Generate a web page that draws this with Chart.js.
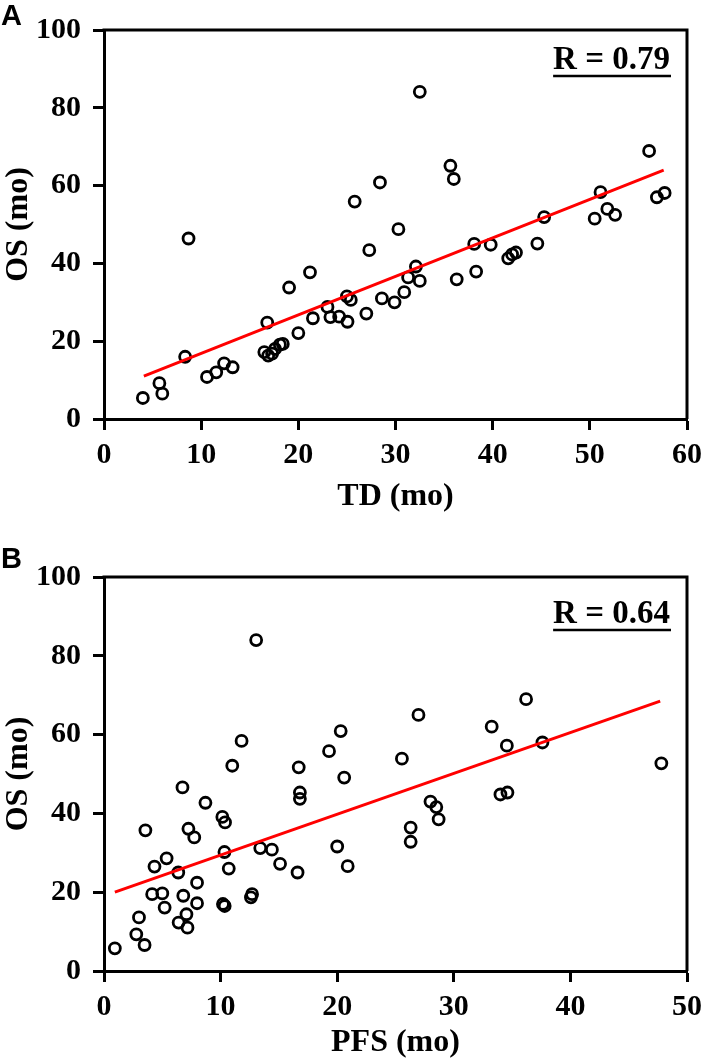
<!DOCTYPE html>
<html>
<head>
<meta charset="utf-8">
<script src="https://cdn.jsdelivr.net/npm/chart.js@4.4.1/dist/chart.umd.min.js"></script>
<style>
  body { margin: 0; background: #fff; width: 709px; height: 1062px; position: relative; overflow: hidden; }
  canvas { position: absolute; left: 0; }
</style>
</head>
<body>
<canvas id="chartA" width="709" height="531" style="top:0"></canvas>
<canvas id="chartB" width="709" height="531" style="top:531px"></canvas>
<script>
// panel A: time to death (TD) vs overall survival (OS), months
const tdA = [4.0, 5.7, 6.0, 8.35, 8.7, 10.6, 11.55, 12.36, 13.24, 16.5, 16.8, 16.9, 17.3, 17.6, 18.1, 18.4,
  19.05, 20.0, 21.2, 21.5, 23.0, 23.3, 24.2, 25.06, 25.0, 25.4, 27.0, 25.8, 27.3, 28.4, 28.6, 29.9, 30.3,
  30.9, 31.3, 32.1, 32.5, 32.5, 35.65, 36.0, 36.3, 38.1, 38.3, 39.8, 41.6, 42.0, 42.4, 44.6, 45.3, 50.5,
  51.1, 51.8, 52.6, 56.1, 56.9, 57.7];
const osA = [5.4, 9.2, 6.5, 16.0, 46.4, 10.8, 12.0, 14.3, 13.3, 17.2, 24.8, 16.3, 16.8, 18.0, 19.1, 19.3,
  33.8, 22.1, 37.7, 25.9, 28.8, 26.2, 26.3, 25.0, 31.5, 30.6, 27.1, 55.9, 43.4, 60.8, 31.0, 30.0, 48.8,
  32.6, 36.4, 39.2, 35.5, 84.1, 65.1, 61.7, 35.9, 45.0, 37.9, 44.8, 41.3, 42.3, 42.8, 45.1, 51.9, 51.5,
  58.3, 54.0, 52.5, 68.9, 57.0, 58.1];
const fitAx = [4.1, 57.6];
const fitAy = [11.0, 64.0];

// panel B: progression-free survival (PFS) vs OS
const pfsB = [0.93, 2.77, 3.0, 3.48, 3.55, 4.13, 4.33, 5.0, 5.37, 5.2, 6.37, 6.4, 6.73, 6.8, 7.07, 7.16,
  7.24, 7.74, 7.98, 7.98, 8.7, 10.15, 10.38, 10.33, 10.7, 10.2, 10.35, 11.0, 11.8, 12.6, 12.7, 13.05,
  13.4, 14.4, 15.1, 16.6, 16.7, 16.8, 16.8, 19.3, 20.0, 20.3, 20.6, 20.9, 25.55, 26.3, 26.3, 26.97,
  28.0, 28.5, 28.7, 33.25, 34.0, 34.55, 34.6, 36.2, 37.6, 47.8];
const osB = [5.75, 9.3, 13.6, 6.6, 35.7, 19.5, 26.5, 19.7, 28.6, 16.1, 25.0, 12.3, 46.6, 19.1, 14.4, 11.0,
  36.1, 33.9, 22.4, 17.2, 42.7, 39.1, 37.7, 30.2, 26.0, 17.0, 16.5, 52.1, 58.4, 18.7, 19.5, 84.0,
  31.2, 30.8, 27.2, 25.0, 51.7, 45.3, 43.7, 55.8, 31.6, 60.9, 49.1, 26.6, 53.9, 36.4, 32.8, 65.0,
  43.0, 41.6, 38.5, 62.0, 44.8, 57.2, 45.3, 69.0, 58.0, 52.7];
const fitBx = [0.93, 47.7];
const fitBy = [20.0, 68.5];

const yTicks = [0, 20, 40, 60, 80, 100];
const xTicksA = [0, 10, 20, 30, 40, 50, 60];
const xTicksB = [0, 10, 20, 30, 40, 50];

const serif = '"Liberation Serif", "Times New Roman", serif';

function toPoints(xs, ys) {
  return xs.map((x, i) => ({ x: x, y: ys[i] }));
}

// frame on top/right, R value and the panel letter
const decorPlugin = {
  id: 'decor',
  afterDraw(chart, args, opts) {
    const { ctx, chartArea: a } = chart;
    ctx.save();
    ctx.strokeStyle = '#000';
    ctx.lineWidth = 3;
    ctx.beginPath();
    ctx.moveTo(a.left - 1.5, a.top);
    ctx.lineTo(a.right, a.top);
    ctx.lineTo(a.right, a.bottom);
    ctx.stroke();

    ctx.fillStyle = '#000';
    ctx.font = 'bold 33px ' + serif;
    ctx.textAlign = 'right';
    ctx.textBaseline = 'alphabetic';
    ctx.fillText(opts.rText, 670, opts.rBase);
    const w = ctx.measureText(opts.rText).width;
    ctx.lineWidth = 2.5;
    ctx.beginPath();
    ctx.moveTo(671 - w - 1, opts.rBase + 7);
    ctx.lineTo(671, opts.rBase + 7);
    ctx.stroke();

    ctx.font = 'bold 29px "Liberation Sans", Arial, sans-serif';
    ctx.textAlign = 'left';
    ctx.fillText(opts.letter, 1, opts.letterBase);
    ctx.restore();
  }
};

function makeChart(id, xs, ys, fx, fy, xMax, xTicks, xTitle, cfg) {
  const tickFont = { family: serif, size: 30, weight: 'bold' };
  const titleFont = { family: serif, size: 32, weight: 'bold' };
  return new Chart(document.getElementById(id), {
    type: 'scatter',
    data: {
      datasets: [
        {
          data: toPoints(xs, ys),
          pointStyle: 'circle',
          pointRadius: 5.5,
          pointBorderWidth: 2.8,
          borderColor: '#000',
          backgroundColor: 'rgba(0,0,0,0)',
          order: 2
        },
        {
          type: 'line',
          data: toPoints(fx, fy),
          borderColor: '#f00',
          borderWidth: 3,
          pointRadius: 0,
          fill: false,
          order: 1
        }
      ]
    },
    options: {
      responsive: false,
      animation: false,
      events: [],
      layout: { padding: { left: 0, right: 16, top: cfg.top, bottom: 0 } },
      plugins: {
        legend: { display: false },
        tooltip: { enabled: false },
        decor: { rText: cfg.rText, rBase: cfg.rBase, letter: cfg.letter, letterBase: cfg.letterBase }
      },
      scales: {
        x: {
          type: 'linear',
          min: 0,
          max: xMax,
          afterBuildTicks: s => { s.ticks = xTicks.map(v => ({ value: v })); },
          afterFit: s => { s.height = cfg.xHeight; },
          ticks: { font: tickFont, color: '#000', padding: 7, autoSkip: false, maxRotation: 0 },
          grid: { drawOnChartArea: false, drawTicks: true, tickLength: 11, tickWidth: 3, tickColor: '#000' },
          border: { display: true, width: 3, color: '#000' },
          title: { display: true, text: xTitle, font: titleFont, color: '#000', padding: { top: 0, bottom: cfg.xTitlePad } }
        },
        y: {
          type: 'linear',
          min: 0,
          max: 100,
          afterBuildTicks: s => { s.ticks = yTicks.map(v => ({ value: v })); },
          afterFit: s => { s.width = 104; },
          ticks: { font: tickFont, color: '#000', padding: 12, autoSkip: false },
          grid: { drawOnChartArea: false, drawTicks: true, tickLength: 11, tickWidth: 3, tickColor: '#000' },
          border: { display: true, width: 3, color: '#000' },
          title: { display: true, text: 'OS (mo)', font: titleFont, color: '#000', padding: { top: 0, bottom: 0 } }
        }
      }
    },
    plugins: [decorPlugin]
  });
}

makeChart('chartA', tdA, osA, fitAx, fitAy, 60, xTicksA, 'TD (mo)',
  { top: 26, xHeight: 112, xTitlePad: 15, rText: 'R = 0.79', rBase: 69, letter: 'A', letterBase: 25 });
makeChart('chartB', pfsB, osB, fitBx, fitBy, 50, xTicksB, 'PFS (mo)',
  { top: 46, xHeight: 91, xTitlePad: 0, rText: 'R = 0.64', rBase: 92, letter: 'B', letterBase: 37 });
</script>
</body>
</html>
